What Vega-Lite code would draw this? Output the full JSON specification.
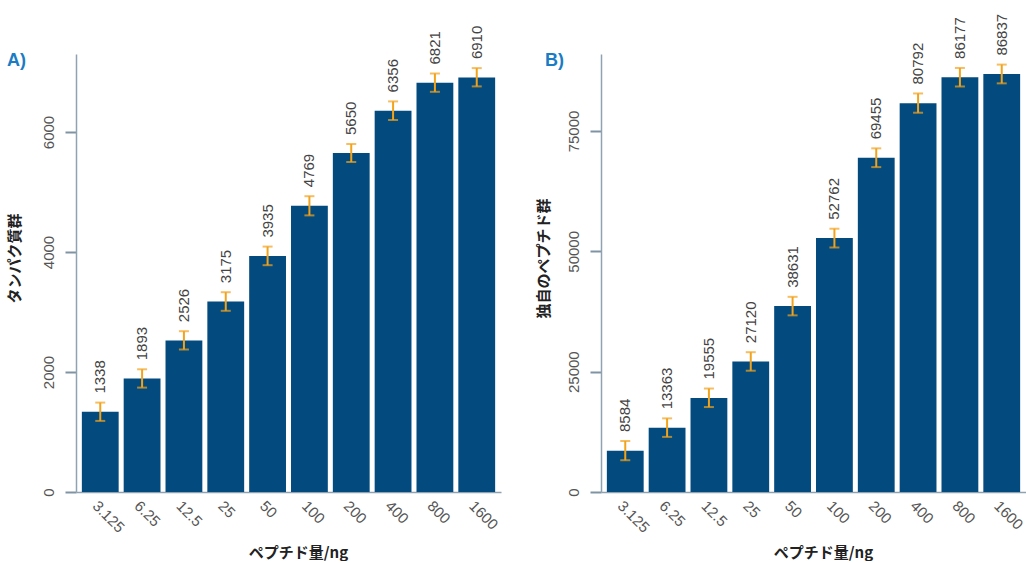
{
  "$schema": "https://vega.github.io/schema/vega-lite/v6.json",
  "background": "white",
  "padding": {"left": 7, "top": 13, "right": 0, "bottom": 0},
  "spacing": 35,
  "config": {
    "view": {"stroke": null},
    "font": "Liberation Sans",
    "axis": {
      "grid": false,
      "domainColor": "#8fa2b2",
      "domainWidth": 1.5,
      "labelColor": "#555555",
      "labelFont": "Liberation Sans",
      "labelFontSize": 15,
      "titleFont": "Noto Sans CJK JP",
      "titleFontWeight": "bold",
      "titleFontSize": 15,
      "titleColor": "#222222"
    },
    "axisX": {
      "ticks": false,
      "labelAngle": 45,
      "labelAlign": "left",
      "labelBaseline": "top",
      "labelPadding": 6,
      "titlePadding": 10,
      "titleX": 222
    },
    "axisY": {
      "ticks": true,
      "tickSize": 11,
      "tickWidth": 2,
      "tickColor": "#7f93a3",
      "tickOpacity": 1
    },
    "title": {"anchor": "start", "color": "#1a7cc4", "fontSize": 18, "fontWeight": "bold", "font": "Liberation Sans"}
  },
  "datasets": {
    "a": [
      {"dose": "3.125", "value": 1338, "lo": 1185, "hi": 1490},
      {"dose": "6.25", "value": 1893, "lo": 1740, "hi": 2045},
      {"dose": "12.5", "value": 2526, "lo": 2375, "hi": 2680},
      {"dose": "25", "value": 3175, "lo": 3020, "hi": 3330},
      {"dose": "50", "value": 3935, "lo": 3780, "hi": 4090},
      {"dose": "100", "value": 4769, "lo": 4610, "hi": 4930},
      {"dose": "200", "value": 5650, "lo": 5500, "hi": 5800},
      {"dose": "400", "value": 6356, "lo": 6200, "hi": 6510},
      {"dose": "800", "value": 6821, "lo": 6670, "hi": 6975},
      {"dose": "1600", "value": 6910, "lo": 6760, "hi": 7065}
    ],
    "b": [
      {"dose": "3.125", "value": 8584, "lo": 6600, "hi": 10600},
      {"dose": "6.25", "value": 13363, "lo": 11450, "hi": 15300},
      {"dose": "12.5", "value": 19555, "lo": 17650, "hi": 21500},
      {"dose": "25", "value": 27120, "lo": 25200, "hi": 29050},
      {"dose": "50", "value": 38631, "lo": 36700, "hi": 40550},
      {"dose": "100", "value": 52762, "lo": 50800, "hi": 54700},
      {"dose": "200", "value": 69455, "lo": 67500, "hi": 71400},
      {"dose": "400", "value": 80792, "lo": 78800, "hi": 82800},
      {"dose": "800", "value": 86177, "lo": 84250, "hi": 88100},
      {"dose": "1600", "value": 86837, "lo": 84900, "hi": 88800}
    ]
  },
  "hconcat": [
    {
      "width": 425,
      "height": 438,
      "title": {"text": "A)", "dy": 48},
      "data": {"name": "a"},
      "encoding": {
        "x": {"field": "dose", "type": "nominal", "sort": null, "title": "ペプチド量/ng",
              "scale": {"paddingInner": 0.12, "paddingOuter": 0.14}}
      },
      "layer": [
        {"mark": {"type": "bar", "color": "#034a7e"},
         "encoding": {"y": {"field": "value", "type": "quantitative", "title": "タンパク質群",
            "scale": {"domain": [0, 7300], "nice": false},
            "axis": {"values": [0, 2000, 4000, 6000], "ticks": true, "tickSize": 11,
                     "labelAngle": 270, "labelAlign": "center", "labelBaseline": "bottom", "labelPadding": 9, "format": "d",
                     "titleAngle": 270, "titlePadding": 19, "titleY": 204, "titleAlign": "center"}}}},
        {"mark": {"type": "rule", "color": "#f2a31c", "strokeWidth": 2},
         "encoding": {"y": {"field": "lo", "type": "quantitative", "title": "タンパク質群"}, "y2": {"field": "hi"}}},
        {"mark": {"type": "tick", "color": "#f2a31c", "thickness": 2, "size": 10},
         "encoding": {"y": {"field": "lo", "type": "quantitative", "title": "タンパク質群"}}},
        {"mark": {"type": "tick", "color": "#f2a31c", "thickness": 2, "size": 10},
         "encoding": {"y": {"field": "hi", "type": "quantitative", "title": "タンパク質群"}}},
        {"mark": {"type": "text", "angle": 270, "align": "left", "baseline": "middle", "dx": 9, "fontSize": 15, "color": "#444444", "font": "Liberation Sans"},
         "encoding": {"y": {"field": "hi", "type": "quantitative", "title": "タンパク質群"},
                      "text": {"field": "value", "type": "quantitative", "format": "d"}}}
      ]
    },
    {
      "width": 425,
      "height": 438,
      "title": {"text": "B)", "dy": 60, "dx": 9},
      "data": {"name": "b"},
      "encoding": {
        "x": {"field": "dose", "type": "nominal", "sort": null, "title": "ペプチド量/ng",
              "scale": {"paddingInner": 0.12, "paddingOuter": 0.14}}
      },
      "layer": [
        {"mark": {"type": "bar", "color": "#034a7e"},
         "encoding": {"y": {"field": "value", "type": "quantitative", "title": "独自のペプチド群",
            "scale": {"domain": [0, 91000], "nice": false},
            "axis": {"values": [0, 25000, 50000, 75000], "ticks": true, "tickSize": 11,
                     "labelAngle": 270, "labelAlign": "center", "labelBaseline": "bottom", "labelPadding": 9, "format": "d",
                     "titleAngle": 270, "titlePadding": 15, "titleY": 204, "titleAlign": "center"}}}},
        {"mark": {"type": "rule", "color": "#f2a31c", "strokeWidth": 2},
         "encoding": {"y": {"field": "lo", "type": "quantitative", "title": "独自のペプチド群"}, "y2": {"field": "hi"}}},
        {"mark": {"type": "tick", "color": "#f2a31c", "thickness": 2, "size": 10},
         "encoding": {"y": {"field": "lo", "type": "quantitative", "title": "独自のペプチド群"}}},
        {"mark": {"type": "tick", "color": "#f2a31c", "thickness": 2, "size": 10},
         "encoding": {"y": {"field": "hi", "type": "quantitative", "title": "独自のペプチド群"}}},
        {"mark": {"type": "text", "angle": 270, "align": "left", "baseline": "middle", "dx": 9, "fontSize": 15, "color": "#444444", "font": "Liberation Sans"},
         "encoding": {"y": {"field": "hi", "type": "quantitative", "title": "独自のペプチド群"},
                      "text": {"field": "value", "type": "quantitative", "format": "d"}}}
      ]
    }
  ]
}
